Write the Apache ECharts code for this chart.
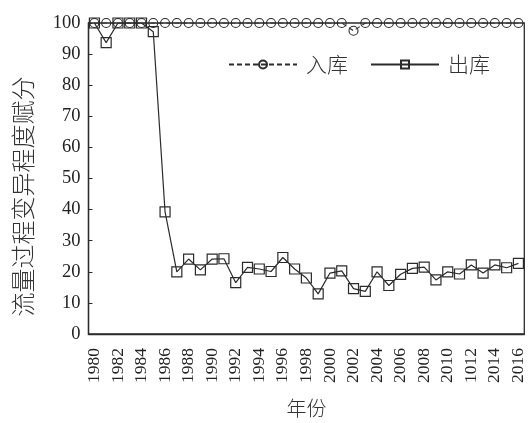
<!DOCTYPE html>
<html>
<head>
<meta charset="utf-8">
<script src="https://cdn.jsdelivr.net/npm/echarts@6/dist/echarts.min.js"></script>
<style>
  html, body { margin: 0; padding: 0; background: #fff; }
  #chart { width: 531px; height: 423px; }
</style>
</head>
<body>
<div id="chart"></div>
<script>
// Years on the horizontal axis
var years = [];
for (var y = 1980; y <= 2016; y++) years.push(String(y));

// Tick labels shown under every second year
var tickLabels = ['1980', '1982', '1984', '1986', '1988', '1990', '1992', '1994', '1996',
  '1998', '2000', '2002', '2004', '2006', '2008', '2010', '1012', '2014', '2016'];

// 入库 scores
var inflow = [100, 100, 100, 100, 100, 100, 100, 100, 100, 100,
  100, 100, 100, 100, 100, 100, 100, 100, 100, 100,
  100, 100, 97.5, 100, 100, 100, 100, 100, 100, 100,
  100, 100, 100, 100, 100, 100, 100];

// 出库 scores
var outflow = [100, 93.7, 100, 100, 100, 97.2, 39.3, 20.0, 24.1, 20.6,
  24.1, 24.2, 16.5, 21.4, 20.9, 20.1, 24.6, 20.9, 18.0, 12.9,
  19.6, 20.3, 14.6, 13.7, 20.0, 15.6, 19.2, 21.1, 21.5, 17.4,
  20.0, 19.3, 22.2, 19.6, 22.2, 21.3, 22.7];

var serif = '"Liberation Serif", "DejaVu Serif", serif';
var cjk = '"Noto Sans CJK SC", sans-serif';
var ink = '#2b2b2b';

var chart = echarts.init(document.getElementById('chart'));
chart.setOption({
  animation: false,
  backgroundColor: '#fff',
  grid: {
    left: 88.5, right: 6.7, top: 23, bottom: 83.7,
    show: true, borderColor: ink, borderWidth: 1.3, backgroundColor: 'transparent'
  },
  legend: {
    left: 223, top: 49,
    itemWidth: 68, itemHeight: 10, itemGap: 22,
    textStyle: { fontFamily: cjk, fontSize: 21, fontWeight: 300, color: '#333', padding: [0, 0, 0, 4] },
    data: ['入库', '出库']
  },
  xAxis: {
    type: 'category',
    data: years,
    boundaryGap: true,
    name: '年份',
    nameLocation: 'middle',
    nameGap: 64,
    nameTextStyle: { fontFamily: cjk, fontSize: 20, fontWeight: 300, color: '#333' },
    axisLine: { lineStyle: { color: ink, width: 1.3 } },
    axisTick: { inside: true, length: 4, interval: 0, lineStyle: { color: ink } },
    axisLabel: {
      interval: 1, rotate: 90, margin: 14,
      fontFamily: serif, fontSize: 17.5, color: '#222',
      formatter: function (v, i) { return tickLabels[i / 2]; }
    },
    splitLine: { show: false }
  },
  yAxis: {
    type: 'value',
    min: 0, max: 100, interval: 10,
    name: '流量过程变异程度赋分',
    nameLocation: 'middle',
    nameGap: 54,
    nameTextStyle: { fontFamily: cjk, fontSize: 24, fontWeight: 300, color: '#333', padding: [0, 36, 0, 0] },
    axisLine: { show: true, lineStyle: { color: ink, width: 1.3 } },
    axisTick: { show: true, inside: true, length: 4, lineStyle: { color: ink } },
    axisLabel: { fontFamily: serif, fontSize: 18.5, color: '#222', margin: 8 },
    splitLine: { show: false }
  },
  series: [
    {
      name: '入库',
      type: 'line',
      data: inflow,
      symbol: 'circle',
      symbolSize: 9,
      showAllSymbol: true,
      lineStyle: { color: ink, width: 1.1, type: [5, 3] },
      itemStyle: { color: 'rgba(255,255,255,0)', borderColor: ink, borderWidth: 1.1 }
    },
    {
      name: '出库',
      type: 'line',
      data: outflow,
      symbol: 'rect',
      symbolSize: 10,
      showAllSymbol: true,
      lineStyle: { color: ink, width: 1.2 },
      itemStyle: { color: 'rgba(255,255,255,0)', borderColor: ink, borderWidth: 1.2 }
    }
  ]
});
</script>
</body>
</html>
